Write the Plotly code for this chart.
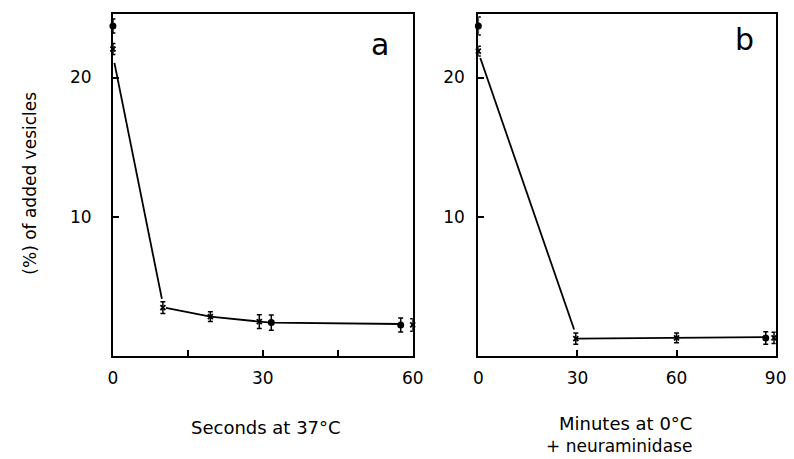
import plotly.graph_objects as go

# ---- data ----
a_cross_x = [0, 10, 19.5, 29.3, 60]
a_cross_y = [22.05, 3.47, 2.83, 2.47, 2.23]
a_cross_err = [0.4, 0.42, 0.35, 0.5, 0.45]
a_dot_x = [0, 31.7, 57.6]
a_dot_y = [23.7, 2.4, 2.23]
a_dot_err = [0.5, 0.55, 0.5]
a_line_x = [0.3, 9.8, None, 10.6, 19.5, 29.3, 31.7, 57.6]
a_line_y = [21.05, 4.1, None, 3.45, 2.83, 2.47, 2.4, 2.3]

b_cross_x = [0, 29.5, 60, 89.5]
b_cross_y = [21.9, 1.25, 1.3, 1.3]
b_cross_err = [0.35, 0.4, 0.35, 0.4]
b_dot_x = [0, 87]
b_dot_y = [23.7, 1.3]
b_dot_err = [0.65, 0.45]
b_line_x = [0.6, 29, None, 29.8, 60, 87]
b_line_y = [21.4, 1.9, None, 1.25, 1.3, 1.35]

a_xticks = [0, 15, 30, 45, 60]
a_xtext = ["0", "", "30", "", "60"]
b_xticks = [0, 30, 60, 90]
b_xtext = ["0", "30", "60", "90"]
yticks = [10, 20]
ytext = ["10", "20"]

FONT = "DejaVu Sans"
OFF = 8                 # page body margin
W, H = 794 - OFF, 459 - OFF

def px(x):
    return (x - OFF) / W

def py(y):
    return 1 - (y - OFF) / H

fig = go.Figure()

def add_panel(lx, ly, cx, cy, ce, dx, dy, de, xa, ya):
    fig.add_trace(go.Scatter(x=lx, y=ly, mode="lines", xaxis=xa, yaxis=ya,
                             line=dict(color="black", width=1.8), showlegend=False,
                             connectgaps=False))
    fig.add_trace(go.Scatter(x=cx, y=cy, mode="markers", xaxis=xa, yaxis=ya,
                             marker=dict(symbol="x-thin", size=5, color="black",
                                         line=dict(color="black", width=1.8)),
                             error_y=dict(type="data", array=ce, color="black",
                                          thickness=1.5, width=2.5),
                             showlegend=False, cliponaxis=False))
    fig.add_trace(go.Scatter(x=dx, y=dy, mode="markers", xaxis=xa, yaxis=ya,
                             marker=dict(symbol="circle", size=7, color="black"),
                             error_y=dict(type="data", array=de, color="black",
                                          thickness=1.5, width=2.5),
                             showlegend=False, cliponaxis=False))

add_panel(a_line_x, a_line_y, a_cross_x, a_cross_y, a_cross_err,
          a_dot_x, a_dot_y, a_dot_err, "x", "y")
add_panel(b_line_x, b_line_y, b_cross_x, b_cross_y, b_cross_err,
          b_dot_x, b_dot_y, b_dot_err, "x2", "y2")

ydom = [py(356), py(13.5)]
axis_common = dict(showline=True, mirror=True, linecolor="black", linewidth=2,
                   showgrid=False, zeroline=False, ticks="inside", ticklen=6,
                   tickwidth=1.8, tickcolor="black",
                   tickfont=dict(family=FONT, size=17, color="black"))

fig.update_layout(
    width=W, height=H, margin=dict(l=0, r=0, t=0, b=0),
    paper_bgcolor="white", plot_bgcolor="white",
    xaxis=dict(domain=[px(110), px(416)], range=[0, 60], tickvals=a_xticks,
               ticktext=a_xtext, anchor="y", ticklabelstandoff=6, **axis_common),
    yaxis=dict(domain=ydom, range=[0, 24.6], tickvals=yticks, ticktext=ytext,
               anchor="x", ticklabelstandoff=16, **axis_common),
    xaxis2=dict(domain=[px(483), px(786.5)], range=[0, 90], tickvals=b_xticks,
                ticktext=b_xtext, anchor="y2", ticklabelstandoff=6, **axis_common),
    yaxis2=dict(domain=ydom, range=[0, 24.6], tickvals=yticks, ticktext=ytext,
                anchor="x2", ticklabelstandoff=8, **axis_common),
)

def ann(text, x, y, size, xanchor="center", angle=0):
    fig.add_annotation(text=text, x=px(x), y=py(y), xref="paper", yref="paper",
                       showarrow=False, xanchor=xanchor, yanchor="middle",
                       textangle=angle, font=dict(family=FONT, size=size, color="black"))

ann("Seconds at 37°C", 266, 427, 18)
ann("Minutes at 0°C", 703, 423, 18, xanchor="right")
ann("+ neuraminidase", 703, 446, 17, xanchor="right")
ann("(%) of added vesicles", 25, 183, 17, angle=-90)
ann("a", 383, 44, 30)
ann("b", 755, 40, 30)

fig.write_html("out.html")
